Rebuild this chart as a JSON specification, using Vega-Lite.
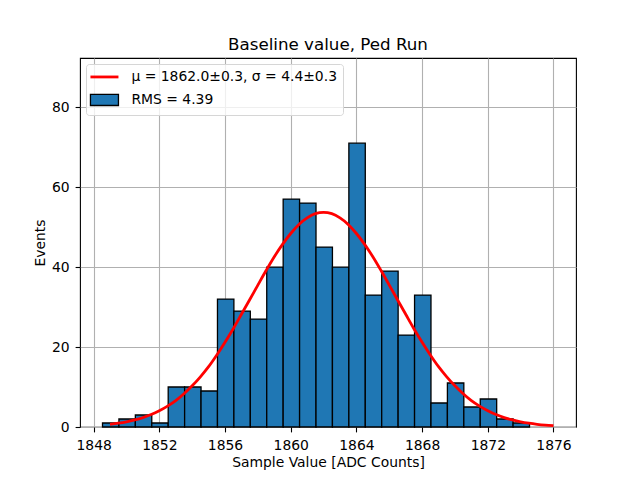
{
  "$schema": "https://vega.github.io/schema/vega-lite/v6.json",
  "width": 496,
  "height": 369,
  "autosize": "none",
  "padding": {"left": 80, "top": 58, "right": 64, "bottom": 53},
  "title": {"text": "Baseline value, Ped Run", "fontSize": 16.7, "fontWeight": "normal", "font": "DejaVu Sans", "color": "black", "anchor": "middle", "baseline": "bottom", "offset": -13},
  "datasets": {
    "bars": [
      {"x0": 1848.54, "x1": 1849.54, "count": 1},
      {"x0": 1849.54, "x1": 1850.54, "count": 2},
      {"x0": 1850.54, "x1": 1851.54, "count": 3},
      {"x0": 1851.54, "x1": 1852.54, "count": 1},
      {"x0": 1852.54, "x1": 1853.54, "count": 10},
      {"x0": 1853.54, "x1": 1854.54, "count": 10},
      {"x0": 1854.54, "x1": 1855.54, "count": 9},
      {"x0": 1855.54, "x1": 1856.54, "count": 32},
      {"x0": 1856.54, "x1": 1857.54, "count": 29},
      {"x0": 1857.54, "x1": 1858.54, "count": 27},
      {"x0": 1858.54, "x1": 1859.54, "count": 40},
      {"x0": 1859.54, "x1": 1860.54, "count": 57},
      {"x0": 1860.54, "x1": 1861.54, "count": 56},
      {"x0": 1861.54, "x1": 1862.54, "count": 45},
      {"x0": 1862.54, "x1": 1863.54, "count": 40},
      {"x0": 1863.54, "x1": 1864.54, "count": 71},
      {"x0": 1864.54, "x1": 1865.54, "count": 33},
      {"x0": 1865.54, "x1": 1866.54, "count": 39},
      {"x0": 1866.54, "x1": 1867.54, "count": 23},
      {"x0": 1867.54, "x1": 1868.54, "count": 33},
      {"x0": 1868.54, "x1": 1869.54, "count": 6},
      {"x0": 1869.54, "x1": 1870.54, "count": 11},
      {"x0": 1870.54, "x1": 1871.54, "count": 5},
      {"x0": 1871.54, "x1": 1872.54, "count": 7},
      {"x0": 1872.54, "x1": 1873.54, "count": 2},
      {"x0": 1873.54, "x1": 1874.54, "count": 1}
    ],
    "fit": [
      {"x": 1849, "y": 0.68}, {"x": 1849.5, "y": 0.95}, {"x": 1850, "y": 1.30}, {"x": 1850.5, "y": 1.77},
      {"x": 1851, "y": 2.36}, {"x": 1851.5, "y": 3.11}, {"x": 1852, "y": 4.06}, {"x": 1852.5, "y": 5.22},
      {"x": 1853, "y": 6.6}, {"x": 1853.5, "y": 8.31}, {"x": 1854, "y": 10.3}, {"x": 1854.5, "y": 12.56},
      {"x": 1855, "y": 15.1}, {"x": 1855.5, "y": 18.03}, {"x": 1856, "y": 21.2}, {"x": 1856.5, "y": 24.59},
      {"x": 1857, "y": 28.2}, {"x": 1857.5, "y": 31.83}, {"x": 1858, "y": 35.5}, {"x": 1858.5, "y": 39.14},
      {"x": 1859, "y": 42.6}, {"x": 1859.5, "y": 45.69}, {"x": 1860, "y": 48.4}, {"x": 1860.5, "y": 50.67},
      {"x": 1861, "y": 52.3}, {"x": 1861.5, "y": 53.36}, {"x": 1862, "y": 53.7}, {"x": 1862.5, "y": 53.36},
      {"x": 1863, "y": 52.3}, {"x": 1863.5, "y": 50.67}, {"x": 1864, "y": 48.4}, {"x": 1864.5, "y": 45.69},
      {"x": 1865, "y": 42.6}, {"x": 1865.5, "y": 39.14}, {"x": 1866, "y": 35.5}, {"x": 1866.5, "y": 31.83},
      {"x": 1867, "y": 28.2}, {"x": 1867.5, "y": 24.59}, {"x": 1868, "y": 21.2}, {"x": 1868.5, "y": 18.03},
      {"x": 1869, "y": 15.1}, {"x": 1869.5, "y": 12.56}, {"x": 1870, "y": 10.3}, {"x": 1870.5, "y": 8.31},
      {"x": 1871, "y": 6.6}, {"x": 1871.5, "y": 5.22}, {"x": 1872, "y": 4.06}, {"x": 1872.5, "y": 3.11},
      {"x": 1873, "y": 2.36}, {"x": 1873.5, "y": 1.77}, {"x": 1874, "y": 1.30}, {"x": 1874.5, "y": 0.95},
      {"x": 1875, "y": 0.68}, {"x": 1875.5, "y": 0.48}, {"x": 1876, "y": 0.34}
    ]
  },
  "layer": [
    {
      "data": {"name": "bars"},
      "mark": {"type": "rect", "fill": "#1f77b4", "strokeWidth": 1.3},
      "encoding": {
        "x": {"field": "x0", "type": "quantitative",
          "scale": {"domain": [1847.17, 1877.37], "nice": false, "zero": false},
          "axis": {"values": [1848, 1852, 1856, 1860, 1864, 1868, 1872, 1876], "format": "d", "title": "Sample Value [ADC Counts]", "labelPadding": 7, "titlePadding": 3}},
        "x2": {"field": "x1"},
        "y": {"field": "count", "type": "quantitative",
          "scale": {"domain": [0, 92.3], "nice": false, "zero": true},
          "axis": {"values": [0, 20, 40, 60, 80], "title": "Events", "labelPadding": 6, "titlePadding": 4}},
        "y2": {"datum": 0},
        "stroke": {"datum": "RMS = 4.39",
          "scale": {"domain": ["μ = 1862.0±0.3, σ = 4.4±0.3", "RMS = 4.39"], "range": ["#ff0000", "#000000"]},
          "legend": {
            "title": null, "orient": "top-left", "offset": 6, "padding": 6, "zindex": 2,
            "fillColor": "rgba(255,255,255,0.8)", "strokeColor": "#d6d6d6", "cornerRadius": 3,
            "symbolSize": 196, "symbolOffset": 5.5, "labelOffset": 20, "rowPadding": 7,
            "labelFont": "DejaVu Sans", "labelFontSize": 13.9, "labelColor": "black", "labelLimit": 400,
            "encoding": {"symbols": {
              "shape": {"value": {"signal": "datum.value === 'RMS = 4.39' ? 'M-2,-0.79H2V0.79H-2Z' : 'M-2,0H2'"}},
              "fill": {"value": {"signal": "datum.value === 'RMS = 4.39' ? '#1f77b4' : 'transparent'"}},
              "strokeWidth": {"value": {"signal": "datum.value === 'RMS = 4.39' ? 1.3 : 2.8"}},
              "opacity": {"value": 1}
            }}
          }
        }
      }
    },
    {
      "data": {"name": "fit"},
      "mark": {"type": "line", "strokeWidth": 2.8, "interpolate": "monotone"},
      "encoding": {
        "x": {"field": "x", "type": "quantitative"},
        "y": {"field": "y", "type": "quantitative"},
        "stroke": {"datum": "μ = 1862.0±0.3, σ = 4.4±0.3",
          "legend": {
            "title": null, "orient": "top-left", "offset": 6, "padding": 6, "zindex": 2,
            "fillColor": "rgba(255,255,255,0.8)", "strokeColor": "#d6d6d6", "cornerRadius": 3,
            "symbolSize": 196, "symbolOffset": 5.5, "labelOffset": 20, "rowPadding": 7,
            "labelFont": "DejaVu Sans", "labelFontSize": 13.9, "labelColor": "black", "labelLimit": 400,
            "encoding": {"symbols": {
              "shape": {"value": {"signal": "datum.value === 'RMS = 4.39' ? 'M-2,-0.79H2V0.79H-2Z' : 'M-2,0H2'"}},
              "fill": {"value": {"signal": "datum.value === 'RMS = 4.39' ? '#1f77b4' : 'transparent'"}},
              "strokeWidth": {"value": {"signal": "datum.value === 'RMS = 4.39' ? 1.3 : 2.8"}},
              "opacity": {"value": 1}
            }}
          }
        }
      }
    }
  ],
  "config": {
    "font": "DejaVu Sans",
    "view": {"stroke": "black", "strokeWidth": 1.1},
    "axis": {
      "zindex": 1, "domain": false,
      "grid": true, "gridColor": "#b0b0b0", "gridWidth": 1.1, "gridOpacity": 1,
      "ticks": true, "tickColor": "black", "tickSize": 4.9, "tickWidth": 1.1,
      "labelFont": "DejaVu Sans", "labelFontSize": 13.9, "labelColor": "black",
      "titleFont": "DejaVu Sans", "titleFontSize": 13.9, "titleFontWeight": "normal", "titleColor": "black"
    }
  }
}
